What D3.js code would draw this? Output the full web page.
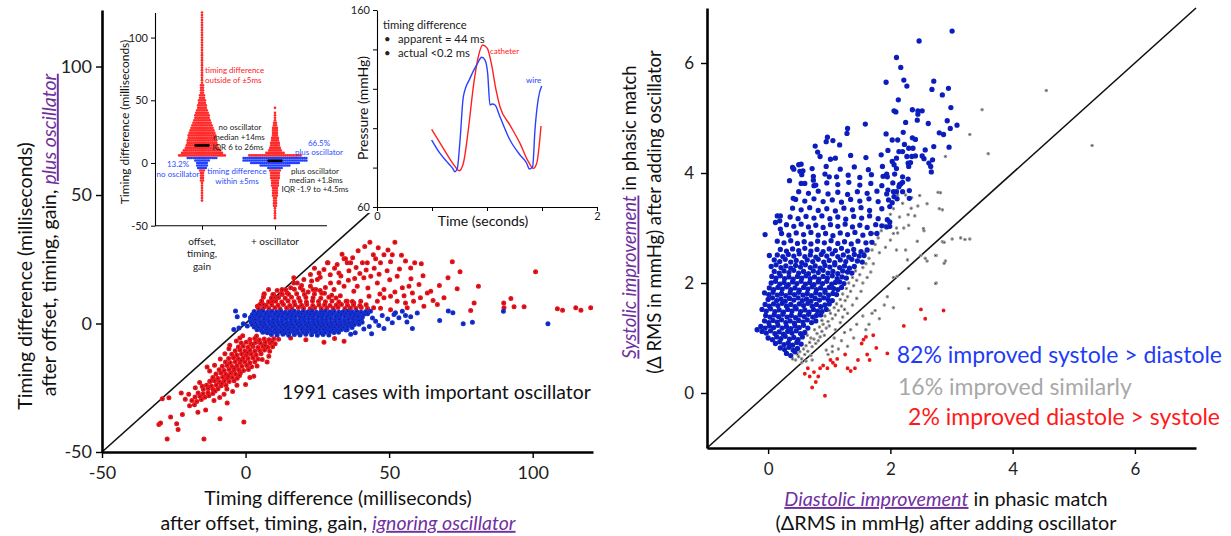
<!DOCTYPE html>
<html>
<head>
<meta charset="utf-8">
<script src="https://cdn.jsdelivr.net/npm/d3@7"></script>
<style>
  body { margin: 0; background: #fff; }
  text { font-family: Lato, "Open Sans", sans-serif; }
</style>
</head>
<body>
<svg id="chart" width="1231" height="536"></svg>
<script>
// ---------- data ----------
const pts = s => s.trim().split(/\s+/).map(p => p.split(",").map(Number));

// left panel: timing difference ignoring oscillator (x) vs plus oscillator (y), ms
const leftRed = pts(`
43.3,31.6 52,31.6 44.5,26.8 48.2,26.8 51.1,26.8 45.3,25.2 42.4,23.6 40.7,23.6 47,23.6 50.5,24 55.7,24.3 58.9,23.6
61.2,23.3 72,24 101,20.1 74.7,20.1 35.4,23.6 34.3,25.2 31.9,23 28.7,23.6 27.3,21 25.6,19.7 22.6,19.1 20.3,17.1 18,15.8
16.8,17.8 15.7,13.9 14.5,11.9 12.8,11.3 11,10 9.3,8.7 6.4,11.3 6.2,7.4 4.1,6.7 29.6,15.8 30.8,13.2 34.3,14.5 37.7,12.6
38.9,14.5 41.2,17.8 43.6,18.4 45.9,15.8 48.2,13.2 50.5,10.6 52.8,18.4 54.6,13.9 56.9,14.5 58.1,11.9 60.4,15.2 63.3,11.9
64.5,12.6 60.9,10 58.5,8.7 55.7,8 52.8,8.7 48.2,10 45.9,8.7 43,10.6 40.1,8.7 37.7,8 35.4,8.7 69.1,10 70.5,17.8 73.7,13.5
81.1,14.5 79.6,8 78.4,5.1 89.9,8 92.4,9.7 93.5,6.5 97,6.5 108.6,5.7 110.4,5.2 115,6.1 116.8,5.2 120.2,6.1 90,6.1 66.8,7.4
62.1,6.7 56.3,6.1 50.5,5.4 26,18 24,21.5 29.5,19 31,21.5 33.2,18.5 36,20.5 38.5,21.8 39.8,19.5 42,20.8 44.8,21.5 46.5,19.2
49.3,20.5 50.2,17 53.6,21.2 38,17.5 35.8,16.8 32.5,16 27.8,14 24.5,13.2 21.8,12.3 19.5,14.8 23,16.5 26.5,11.8 30,11 33,10.8
42.6,13.8 46.8,11.5 52,12.3 55.2,10.8 57.6,17.4 61.8,18.6 65.3,9 67.5,14.8 33.6,27 39.2,28.3 41.5,30 46.2,29.5 49.6,28.6
37.3,25.6 54.3,26.6 57.5,21.6 28.5,23.6 32.5,19.7 34.8,25.2 36.6,23.6 25,17.1 22.6,14.5 19.1,13.9 16.8,15.8 12.7,13.2 9.8,11.3
4.5,5.9 6.3,6.2 8.1,5.8 10.2,6.1 12,5.7 14.3,6 16.1,5.8 18.4,6.2 20.2,5.9 22.5,5.7 24.1,6.1 26.4,5.8 28.3,6 30.5,5.9 32.2,6.2
34.6,5.8 36.5,6 38.4,5.9 40.3,6.2 42.5,5.8 44.6,6.1 47,5.9
5,7.4 7.2,7 9.1,7.3 11.3,7.1 13.2,7.4 15.4,7 17.2,7.3 19.5,7.1 21.3,7.4 23.4,7 25.6,7.2 27.5,7.3 29.4,7 31.6,7.2 33.4,7.4
35.5,7.1 37.6,7.3 39.8,7 42,7.3
5.6,8.8 8,8.5 10.5,8.7 12.6,8.4 14.8,8.8 16.9,8.5 19,8.7 21.2,8.4 23.3,8.8 25.4,8.6 27.8,8.5 30.1,8.8 32.5,8.4 35,8.7 37.2,8.6
6.2,10.2 9,9.9 11.5,10.1 13.8,9.8 16,10.2 18.5,9.9 21,10.1 23.5,10 26.2,9.8 29,10.2 31.5,9.9
6.5,11.6 9.5,11.3 12.5,11.7 15,11.4 17.8,11.6 20.5,11.3 24,11.5 27.5,11.8
8,13.2 11,12.8 14,13.1 17,13.3 20,12.9 23.5,13.2 26,12.8
1.5,-6.2 3.2,-5.8 4.8,-6.4 6.5,-6 8.2,-6.3 9.8,-5.9 11.5,-6.1 15.7,-5.6 21,-6.3 27.3,-7.3 34.3,-6.9 31,-5.8 -3.2,-6.8 -2,-5.6
-1.5,-7.6 0.2,-7.3 1.8,-7.8 3.5,-7.4 5.2,-7.7 6.9,-7.3 8.6,-7.6 10.3,-7.9
-2.5,-9.1 -0.8,-8.8 0.9,-9.2 2.6,-8.9 4.3,-9.3 6,-8.9 7.7,-9.2 9.4,-9
-3.6,-10.6 -1.9,-10.3 -0.2,-10.7 1.5,-10.4 3.2,-10.8 4.9,-10.5 6.6,-10.3 8.4,-10.8
-4.8,-12 -3.1,-12.3 -1.4,-11.9 0.3,-12.2 2,-12 3.7,-12.3 5.4,-11.8 8.1,-12.7
-5.9,-13.6 -4.2,-13.3 -2.5,-13.7 -0.8,-13.4 0.9,-13.6 2.6,-13.3 4.3,-13.8
-7,-15 -5.3,-15.3 -3.6,-14.9 -1.9,-15.2 -0.2,-15 1.5,-15.3 3.2,-14.9 7.5,-15
-8.1,-16.6 -6.4,-16.3 -4.7,-16.7 -3,-16.4 -1.3,-16.6 0.4,-16.3 2.1,-16.8
-9.2,-18 -7.5,-18.3 -5.8,-17.9 -4.1,-18.2 -2.4,-18 -0.7,-18.3 1,-17.9
-10.3,-19.6 -8.6,-19.3 -6.9,-19.7 -5.2,-19.4 -3.5,-19.6 -1.8,-19.3 2.9,-20.5
-11.4,-21 -9.7,-21.3 -8,-20.9 -6.3,-21.2 -4.6,-21 -2.9,-21.3
-12.5,-22.6 -10.8,-22.3 -9.1,-22.7 -7.4,-22.4 -5.7,-22.6 -4,-22.3 0,-23.7
-13.6,-24 -11.9,-24.3 -10.2,-23.9 -8.5,-24.2 -6.8,-24 -15.1,-24.4
-14.7,-25.6 -13,-25.3 -11.3,-25.7 -9.6,-25.4
-16.5,-27 -14.8,-27.3 -13.1,-26.9 -11.4,-27.2 -22.4,-27
-17.6,-28.6 -15.9,-28.3 -14.2,-28.7 -29,-29.3 -26.7,-28.9
-18.7,-30 -17,-30.3 -6.4,-30.9 -19.5,-32 -17.8,-31.6
-30.2,-39.3 -29.6,-38.7 -26.1,-36.4 -24,-39 -23.5,-41.2 -27.3,-44.9 -22,-35.4 -16.6,-34.5 -13.9,-33.7 -14.5,-44.9
-8.9,-37.1 -0.6,-38.3 -13.4,-16.9 -12.2,-22.4
-6.5,-25.5 -4.5,-26.5 -9,-28.8 -11,-30 -5.5,-8.5 -1,-4.8 4,-16.5 5.8,-14 1.5,-21 -3,-24 -7.5,-27.5 -16,-23 -17.5,-25
-19.8,-27.5 -21,-29.5 -12.5,-18.5 -10.8,-16.2 -8.8,-13.8 -7.2,-11.8 -5.8,-9.8 3.8,-4.9 -3.9,-17.4 -6.1,-20.4 -8.3,-23.2
-1.6,-14.3 0.6,-11.4 2.4,-8.2 -10.6,-26.3 -12.8,-28.1 -15.4,-29.6 -2.1,-20.2 6.8,-8.6 9.2,-7
`);

const leftBlue = pts(`
3,4.7 4.6,4.5 6.1,4.8 7.7,4.4 9.2,4.7 10.8,4.5 12.3,4.8 13.9,4.4 15.4,4.6 17,4.8 18.5,4.4 20.1,4.7 21.6,4.5 23.2,4.8
24.7,4.4 26.3,4.6 27.8,4.8 29.4,4.5 30.9,4.7 32.5,4.4 34,4.6 35.6,4.8 37.1,4.5 38.7,4.7 40.2,4.4 41.8,4.6 43.5,4.8
2.4,3.5 3.9,3.7 5.4,3.4 7,3.8 8.5,3.5 10.1,3.7 11.6,3.4 13.2,3.8 14.7,3.5 16.3,3.7 17.8,3.4 19.4,3.8 20.9,3.5 22.5,3.6
24,3.8 25.6,3.4 27.1,3.7 28.7,3.5 30.2,3.8 31.8,3.4 33.3,3.6 34.9,3.8 36.4,3.5 38,3.7 39.5,3.4 41.2,3.6
2,2.6 3.5,2.4 5,2.7 6.6,2.5 8.1,2.8 9.7,2.4 11.2,2.6 12.8,2.7 14.3,2.4 15.9,2.6 17.4,2.8 19,2.5 20.5,2.7 22.1,2.4 23.6,2.6
25.2,2.8 26.7,2.5 28.3,2.6 29.8,2.4 31.4,2.7 32.9,2.5 34.5,2.8 36,2.4 37.6,2.6 39.1,2.7 40.7,2.5
1.8,1.5 3.3,1.7 4.8,1.4 6.4,1.8 7.9,1.5 9.5,1.7 11,1.4 12.6,1.6 14.1,1.8 15.7,1.5 17.2,1.7 18.8,1.4 20.3,1.6 21.9,1.8
23.4,1.5 25,1.7 26.5,1.4 28.1,1.6 29.6,1.8 31.2,1.5 32.7,1.7 34.3,1.4 35.8,1.6 37.4,1.8 38.9,1.5 40.3,1.6
1.9,0.6 3.4,0.4 5,0.7 6.5,0.5 8.1,0.8 9.6,0.4 11.2,0.6 12.7,0.7 14.3,0.4 15.8,0.6 17.4,0.8 18.9,0.5 20.5,0.7 22,0.4
23.6,0.6 25.1,0.8 26.7,0.5 28.2,0.6 29.8,0.4 31.3,0.7 32.9,0.5 34.4,0.8 36,0.4 37.5,0.6 39.1,0.7 40.6,0.5
2.3,-0.4 3.8,-0.6 5.4,-0.3 6.9,-0.5 8.5,-0.2 10,-0.6 11.6,-0.4 13.1,-0.3 14.7,-0.6 16.2,-0.4 17.8,-0.2 19.3,-0.5 20.9,-0.3
22.4,-0.6 24,-0.4 25.5,-0.2 27.1,-0.5 28.6,-0.4 30.2,-0.6 31.7,-0.3 33.3,-0.5 34.8,-0.2 36.4,-0.6 37.9,-0.4 39.5,-0.3
3,-1.4 4.5,-1.6 6.1,-1.3 7.6,-1.5 9.2,-1.2 10.7,-1.6 12.3,-1.4 13.8,-1.3 15.4,-1.6 16.9,-1.4 18.5,-1.2 20,-1.5 21.6,-1.3
23.1,-1.6 24.7,-1.4 26.2,-1.2 27.8,-1.5 29.3,-1.4 30.9,-1.6 32.4,-1.3 34,-1.5 35.5,-1.2 37.1,-1.6
4,-2.4 5.5,-2.6 7.1,-2.3 8.6,-2.5 10.2,-2.2 11.7,-2.6 13.3,-2.4 14.8,-2.3 16.4,-2.6 17.9,-2.4 19.5,-2.2 21,-2.5 22.6,-2.3
24.1,-2.6 25.7,-2.4 27.2,-2.2 28.8,-2.5 30.3,-2.4 31.9,-2.6 33.4,-2.3 35,-2.5
6,-3.4 7.6,-3.6 9.1,-3.3 10.7,-3.5 12.2,-3.2 13.8,-3.6 15.3,-3.4 16.9,-3.3 18.4,-3.6 20,-3.4 21.5,-3.2 23.1,-3.5 24.6,-3.3
26.2,-3.6 27.7,-3.4 29.3,-3.2 30.8,-3.5 32.4,-3.4
9,-4.3 11,-4.5 13,-4.2 15,-4.6 17,-4.3 19,-4.5 21,-4.2 23,-4.4 25,-4.6 27,-4.3 29,-4.5
-3.5,4.9 -2.9,2.6 -4.1,-2.3 -2.3,-1.7 -0.8,-0.1 0.6,-1 1.7,2.2 -0.3,3.1 67.6,1.2 70.6,4.9 72.2,4.2 75.8,-0.1 79,0.5
89.8,4.8 105.3,-0.1 58.1,-1.9 54.6,4.8 55.7,3.1 57.5,2.6 53.4,2.2 51.1,0.3 48.2,-1.9 43.9,-4 41.2,-2.1 39.5,1.2 45.3,0.9
47.6,3.1 51.7,3.5 35.4,-2.3 42.5,3.8 44.2,2.1 46.4,-0.8 49.5,1.8 52.2,4.2 43.1,-1.2 38.2,-3.6 36.6,-4.2 59.8,4.1 56.2,0.6
`);

// right panel: diastolic (x) vs systolic (y) improvement, ΔRMS mmHg
const rightBlue = pts(`
0.3,0.72 0.37,0.68 0.44,0.75
0.2,0.82 0.27,0.79 0.34,0.83 0.41,0.78 0.48,0.81
0.12,0.9 0.19,0.93 0.26,0.88 0.33,0.91 0.4,0.87 0.47,0.92 0.54,0.89
0,1 0.07,0.97 0.14,1.02 0.21,0.99 0.28,1.03 0.35,0.98 0.42,1.01 0.49,0.97 0.56,1.02
-0.1,1.12 -0.03,1.09 0.04,1.13 0.11,1.08 0.18,1.11 0.25,1.07 0.32,1.12 0.39,1.09 0.46,1.13 0.53,1.08 0.6,1.1
-0.18,1.15 -0.12,1.21 -0.05,1.18 0.02,1.22 0.09,1.19 0.16,1.23 0.23,1.18 0.3,1.21 0.37,1.17 0.44,1.22 0.51,1.19 0.58,1.23 0.65,1.18
-0.06,1.31 0.01,1.28 0.08,1.32 0.15,1.29 0.22,1.33 0.29,1.28 0.36,1.31 0.43,1.27 0.5,1.32 0.57,1.29 0.64,1.33 0.71,1.28 0.78,1.31
-0.04,1.41 0.03,1.38 0.1,1.42 0.17,1.39 0.24,1.43 0.31,1.38 0.38,1.41 0.45,1.37 0.52,1.42 0.59,1.39 0.66,1.43 0.73,1.38 0.79,1.41 0.86,1.42
-0.1,1.52 -0.03,1.49 0.04,1.53 0.11,1.48 0.18,1.51 0.25,1.47 0.32,1.52 0.39,1.49 0.46,1.53 0.53,1.48 0.6,1.51 0.67,1.47 0.74,1.52 0.81,1.49 0.88,1.48 0.95,1.52
-0.05,1.61 0.02,1.58 0.09,1.62 0.16,1.59 0.23,1.63 0.3,1.58 0.37,1.61 0.44,1.57 0.51,1.62 0.58,1.59 0.65,1.63 0.72,1.58 0.79,1.61 0.86,1.57 0.93,1.6 1,1.62
0,1.7 0.07,1.73 0.14,1.68 0.21,1.71 0.28,1.67 0.35,1.72 0.42,1.69 0.49,1.73 0.56,1.68 0.63,1.71 0.7,1.67 0.77,1.72 0.84,1.69 0.91,1.73 0.98,1.7 1.05,1.68
-0.06,1.82 0.01,1.79 0.08,1.83 0.15,1.78 0.22,1.81 0.29,1.77 0.36,1.82 0.43,1.79 0.5,1.83 0.57,1.78 0.64,1.81 0.71,1.77 0.78,1.82 0.85,1.79 0.93,1.83 0.99,1.78 1.06,1.81 1.12,1.79
0.02,1.91 0.09,1.88 0.16,1.92 0.23,1.89 0.3,1.93 0.37,1.88 0.44,1.91 0.51,1.87 0.58,1.92 0.65,1.89 0.72,1.93 0.79,1.88 0.86,1.91 0.93,1.87 1,1.92 1.07,1.9 1.14,1.88 1.2,1.92
0.05,2 0.12,2.03 0.19,1.98 0.26,2.01 0.33,1.97 0.4,2.02 0.47,1.99 0.54,2.03 0.61,1.98 0.68,2.01 0.75,1.97 0.82,2.02 0.89,1.99 0.96,2.03 1.04,1.98 1.1,2.01 1.17,2.02 1.24,1.99
0.06,2.12 0.13,2.09 0.2,2.13 0.27,2.08 0.34,2.11 0.41,2.07 0.48,2.12 0.55,2.09 0.62,2.13 0.69,2.08 0.76,2.11 0.83,2.07 0.9,2.12 0.97,2.09 1.05,2.13 1.13,2.08 1.21,2.11 1.28,2.09
0.1,2.21 0.18,2.18 0.26,2.22 0.34,2.19 0.42,2.23 0.5,2.18 0.58,2.21 0.66,2.17 0.74,2.22 0.82,2.19 0.9,2.23 0.98,2.18 1.06,2.21 1.14,2.17 1.22,2.22 1.3,2.2 1.37,2.18
0.05,2.3 0.13,2.33 0.21,2.28 0.29,2.31 0.37,2.27 0.45,2.32 0.53,2.29 0.61,2.33 0.69,2.28 0.77,2.31 0.85,2.27 0.93,2.32 1.01,2.29 1.09,2.33 1.17,2.28 1.25,2.31 1.33,2.27 1.41,2.3
0.1,2.42 0.19,2.39 0.28,2.43 0.37,2.38 0.46,2.41 0.55,2.37 0.64,2.42 0.73,2.39 0.82,2.43 0.91,2.38 1,2.41 1.09,2.37 1.18,2.42 1.27,2.39 1.37,2.43 1.46,2.4 1.54,2.38
0.15,2.51 0.24,2.48 0.33,2.52 0.42,2.49 0.51,2.53 0.6,2.48 0.69,2.51 0.78,2.47 0.87,2.52 0.96,2.49 1.05,2.53 1.14,2.48 1.23,2.51 1.32,2.47 1.41,2.52 1.49,2.49 1.57,2.5
0.2,2.61 0.3,2.58 0.4,2.62 0.5,2.59 0.6,2.63 0.7,2.58 0.8,2.61 0.9,2.57 1,2.62 1.1,2.59 1.2,2.63 1.3,2.58 1.4,2.61 1.52,2.57 1.62,2.6
0.15,2.76 0.26,2.73 0.37,2.77 0.48,2.72 0.59,2.75 0.7,2.71 0.81,2.76 0.92,2.73 1.03,2.77 1.14,2.72 1.25,2.75 1.36,2.71 1.47,2.76 1.6,2.73 1.7,2.74
-0.05,2.88 0.22,2.9 0.34,2.87 0.46,2.91 0.58,2.88 0.7,2.92 0.82,2.87 0.94,2.9 1.06,2.86 1.18,2.91 1.3,2.88 1.42,2.92 1.55,2.87 1.68,2.9 1.78,2.9
0.3,3.06 0.42,3.03 0.54,3.07 0.66,3.02 0.78,3.05 0.9,3.01 1.02,3.06 1.14,3.03 1.26,3.07 1.38,3.02 1.5,3.05 1.62,3.01 1.76,3.06 1.86,3.04
0.15,3.22 0.36,3.2 0.49,3.17 0.62,3.21 0.75,3.18 0.88,3.22 1.01,3.17 1.14,3.2 1.27,3.16 1.4,3.21 1.53,3.18 1.66,3.22 1.8,3.17 0.12,3.1 0.2,2.98
0.4,3.36 0.54,3.33 0.68,3.37 0.82,3.32 0.96,3.35 1.1,3.31 1.24,3.36 1.38,3.33 1.52,3.37 1.66,3.32 1.86,3.35
0.45,3.52 0.6,3.49 0.75,3.53 0.9,3.48 1.05,3.51 1.2,3.47 1.35,3.52 1.5,3.49 1.65,3.53 1.8,3.48 1.97,3.51
0.5,3.66 0.66,3.63 0.82,3.67 0.98,3.62 1.14,3.65 1.3,3.61 1.46,3.66 1.62,3.63 1.78,3.67 1.94,3.62 2.05,3.66
0.6,3.81 0.78,3.78 0.96,3.82 1.14,3.79 1.32,3.83 1.5,3.78 1.68,3.81 1.86,3.77 2.04,3.82 2.15,3.79
0.55,3.97 0.74,3.94 0.93,3.98 1.12,3.93 1.31,3.96 1.5,3.92 1.69,3.97 1.88,3.94 2.07,3.98 2.2,3.93
0.4,4.1 0.5,4.15 0.72,4.08 0.95,4.12 1.18,4.07 1.41,4.11 1.64,4.06 1.87,4.12 2.1,4.08 2.3,4.12
0.85,4.3 1.1,4.27 1.35,4.32 1.6,4.28 1.85,4.33 2.1,4.27 2.35,4.3 2.55,4.26
3.01,6.58 2.47,6.4 2.1,6.1 2.17,5.92 1.93,5.65 2.22,5.69 2.27,5.58 2.71,5.67 2.68,5.52 2.95,5.54 2.85,5.42 2.13,5.33
2.06,5.13 2.09,5.11 2.36,5.15 2.45,5.13 2.52,5.13 2.45,5.07 2.99,5.19 2.25,4.92 2.44,4.96 2.62,4.9 2.93,4.95 3.09,4.87
2.98,4.81 2.8,4.73 2.87,4.7 2.21,4.74 1.93,4.71 2.03,4.6 2.12,4.6 2.36,4.64 2.41,4.61 2.23,4.52 2.3,4.45 2.37,4.45
2.71,4.48 2.96,4.47 2.57,4.42 2.14,4.39 2.2,4.39 1.96,4.41 2.27,4.3 2.41,4.31 2.52,4.31 2.69,4.24 2.33,4.19 2.29,4.18
2.03,4.21 2.63,4.18 2.66,4.12 2.67,4.02 2.06,4.15 1.94,3.98 1.95,3.93 2.29,3.89 2.17,3.8 2.2,3.83 2.14,3.75 1.96,3.69
2.1,3.66 2.2,3.66 2.31,3.68 2.06,3.57 2.11,3.53 2.31,3.54 2.03,3.46 1.99,3.39 1.95,3.15 1.99,3.11 1.94,3.02 1.99,3.03
1.59,4.89 1.29,4.72 1.3,4.81 0.97,4.65 0.95,4.57 1.06,4.59 1.17,4.51 0.81,4.38 1.02,4.25 0.77,4.49 0.54,4.16 0.42,4.07
0.57,4.04 0.52,4.03 0.35,3.86 0.54,3.81 0.74,3.87 0.75,3.77 1,3.93 0.41,3.54 0.2,3.22 0.19,3.13 0.02,2.5
`);

const rightGray = pts(`
0.45,0.6 0.5,0.66 0.55,0.62 0.6,0.7 0.52,0.75 0.58,0.8 0.65,0.76 0.7,0.68 0.48,0.7 0.62,0.86 0.68,0.92 0.72,0.84 0.78,0.9
0.75,0.98 0.82,0.95 0.85,1.02 0.7,1 0.64,1.05 0.8,1.08 0.88,1.12 0.92,1.05 0.76,1.15 0.84,1.2 0.9,1.25 0.95,1.18 1,1.22
0.98,1.3 1.05,1.35 0.88,1.32 0.93,1.4 1.02,1.45 1.1,1.42 1.15,1.5 1.08,1.55 1.2,1.58 1.25,1.52 1,1.5 1.12,1.62 1.18,1.7
1.26,1.68 1.3,1.75 1.22,1.8 1.35,1.85 1.28,1.9 1.4,1.95 1.32,2 1.45,2.05 1.38,2.1 1.5,2.15 1.43,2.22 1.55,2.28 1.6,2.35
1.48,2.4 1.65,2.45 1.58,2.55 1.7,2.6 1.75,2.7 1.68,2.75 1.8,2.82 1.72,2.9 1.85,2.95 1.9,3.05 1.95,3.15 2,3.25 2.05,3.35
1.98,3.1 2.1,3 2.05,2.9 2.15,3.2 2.2,3.45 2.25,3.6 2.35,3.55 2.45,3.4 2.4,3.22 2.3,3.05 2.55,2.95 2.6,2.4 2.5,2.5 2.75,2.5
2.9,2.4 2.85,2.75 3.15,2.82 3.3,2.8 2.75,2 2.3,1.9 2.05,2.1 2.05,1.55 1.9,1.6 1.95,1.75 1.75,1.5 1.82,1.35 1.65,1.25
1.7,1.45 1.55,1.4 1.45,1.25 1.35,1.15 1.25,1.1 1.2,0.95 1.3,0.85 1.4,1 1.6,1.15 1.15,0.8 1.05,0.85 1.08,1 0.95,0.78
0.55,0.55 0.62,0.58 0.4,0.62 0.98,0.7 1.05,0.75 0.72,0.6 1.1,1.15 1.18,1.28 1.22,1.38 1.3,1.45 1.38,1.6 1.45,1.72
1.52,1.85 1.55,2 1.62,2.1 1.68,2.2 1.72,2.35 1.82,2.55 1.92,2.65 2,2.78 2.1,2.6 2.12,3.6 2.3,4.15 2.78,3.65 2.8,3.35
2.9,4.3 3.3,4.7 3.5,5.15 3.6,4.35 4.55,5.5 5.3,4.5 3.01,2.8 3.22,2.79 2.88,2.74 2.44,2.76 2.25,2.6 2.57,2.45 2.74,2.5
2.88,2.36 2.28,2.42 2.11,2.12 2.74,1.99 2.82,3.64 2.85,3.33 2.48,3.59 2.6,3.44 2.34,3.36 2.29,3.24 2.54,2.99 2.22,3
2.12,2.91
`);

const rightRed = pts(`
0.65,0.45 0.6,0.35 0.68,0.3 0.72,0.1 0.78,0.2 0.85,0.45 0.9,0.5 0.93,-0.05 0.97,0.45 1.02,0.6 1.06,0.55 1.1,0.5
1.13,0.62 1.26,0.7 1.3,0.45 1.35,0.4 1.42,0.45 1.47,0.6 1.53,0.9 1.56,0.97 1.6,1.02 1.62,0.7 1.66,0.6 1.72,1.05
1.77,0.82 1.95,0.72 2.22,1.22 2.5,1.52 2.57,1.35 2.87,1.5 0.75,0.38 0.82,0.3
`);

const leftTicks = [-50, 0, 50, 100];
const rightTicks = [0, 2, 4, 6];

// inset 1: bee swarm, [timing difference bin (ms), number of cases in row]
const swarmCats = ["offset, timing, gain", "+ oscillator"];
const swarmNoOsc = [[120,1],[118,1],[116,1],[114,1],[112,1],[110,1],[108,1],[106,1],[104,1],[102,1],[100,1],[98,1],
  [96,1],[94,1],[92,1],[90,1],[88,1],[86,1],[84,1],[82,1],[80,1],[78,1],[76,1],[74,1],[72,1],[70,1],[68,1],[66,1],
  [64,1],[62,2],[60,2],[58,2],[56,2],[54,3],[52,3],[50,4],[48,4],[46,5],[44,5],[42,6],[40,7],[38,8],[36,8],[34,9],
  [32,10],[30,11],[28,12],[26,13],[24,14],[22,15],[20,15],[18,16],[16,16],[14,17],[12,18],[10,20],[8,22],[6,25],
  [4,16],[2,8],[0,6],[-2,6],[-4,5],[-6,3],[-8,2],[-10,2],[-12,2],[-14,2],[-16,1],[-18,1],[-20,1],[-22,1],[-24,1],
  [-26,1],[-28,1],[-30,1]];
const swarmPlusOsc = [[44,1],[40,1],[38,1],[36,1],[34,1],[32,2],[30,2],[28,3],[26,3],[24,3],[22,3],[20,4],[18,4],
  [16,5],[14,5],[12,6],[10,7],[8,10],[6,28],[4,34],[2,34],[0,26],[-2,16],[-4,8],[-6,6],[-8,5],[-10,5],[-12,5],
  [-14,4],[-16,4],[-18,4],[-20,3],[-22,3],[-24,3],[-26,3],[-28,2],[-30,2],[-32,2],[-34,2],[-36,1],[-38,1],[-40,1],
  [-42,1],[-44,1]];
const swarmMedians = [14, 1.8];
const swarmTicks = [-50, 0, 50, 100];

// inset 2: pressure traces (seconds, mmHg)
const catheterT = [0.497,0.603,0.694,0.748,0.785,0.830,0.876,0.921,0.961,1.003,1.042,1.082,1.118,1.209,1.300,1.376,1.421,1.452,1.491];
const catheterP = [99.4,89.8,81.8,78.4,82.2,99.1,121.1,136.3,142.2,140.5,132.1,119.4,110.9,101.6,92.3,83.0,79.6,82.2,101.1];
const wireT = [0.497,0.573,0.648,0.688,0.709,0.730,0.755,0.785,0.845,0.906,0.952,0.982,1.006,1.027,1.048,1.073,1.118,1.209,1.300,1.361,1.385,1.415,1.436,1.467,1.497];
const wireP = [94,87.2,82.2,79.6,77.9,79.6,94,116,125.3,132.1,136,134.6,127.9,111.8,112.3,111.8,105.8,94,86.4,82.2,79.3,80.5,99.1,115.2,121.4];
const pressTicks = [60, 80, 100, 120, 140, 160];
const timeTicks = [0, 0.5, 1, 1.5, 2];

// ---------- drawing ----------
const svg = d3.select("#chart");
const purple = "#7030a0";
const red = "#e8141c", blue = "#1530d0";

function dots(g, data, x, y, fill, r, core, sw) {
  g.append("g").selectAll("circle").data(data).join("circle")
    .attr("cx", d => x(d[0])).attr("cy", d => y(d[1]))
    .attr("r", r).attr("fill", core).attr("stroke", fill).attr("stroke-width", sw);
}

function styleAxis(g, size, lw) {
  g.select(".domain").attr("stroke", "#000").attr("stroke-width", lw);
  g.selectAll(".tick line").attr("stroke", "#000").attr("stroke-width", Math.max(1, lw * 0.55));
  g.selectAll(".tick text").attr("fill", "#222").style("font-size", size + "px")
    .style("font-family", "Lato, sans-serif");
}

function label(x, y, parts, size, rot, anchor) {
  const t = svg.append("text")
    .attr("transform", `translate(${x},${y})` + (rot ? " rotate(-90)" : ""))
    .attr("text-anchor", anchor || "middle").attr("dy", "0.35em")
    .style("font-size", size + "px").attr("fill", "#111");
  parts.forEach(p => {
    const s = t.append("tspan").text(p[0]);
    if (p[1]) s.attr("fill", purple).style("font-style", "italic").style("text-decoration", "underline");
  });
  return t;
}

// ----- left panel
const xL = d3.scaleLinear().domain([-50, 121]).range([102, 593]);
const yL = d3.scaleLinear().domain([-50, 122]).range([452, 10]);

svg.append("line")
  .attr("x1", xL(-50)).attr("y1", yL(-50)).attr("x2", xL(121)).attr("y2", yL(121))
  .attr("stroke", "#111").attr("stroke-width", 1.6);

const gL = svg.append("g");
dots(gL, leftRed, xL, yL, red, 1.5, "#1a0a0a", 2.0);
dots(gL, leftBlue, xL, yL, blue, 1.5, "#0a0a2a", 2.0);

svg.append("g").attr("transform", `translate(0,${yL(-50)})`)
  .call(d3.axisBottom(xL).tickValues(leftTicks).tickSize(6).tickSizeOuter(0).tickPadding(8).tickFormat(d => String(d)))
  .call(g => styleAxis(g, 18, 2.6));
svg.append("g").attr("transform", `translate(${xL(-50)},0)`)
  .call(d3.axisLeft(yL).tickValues(leftTicks).tickSize(6).tickSizeOuter(0).tickPadding(4).tickFormat(d => String(d)))
  .call(g => styleAxis(g, 18, 2.6));

label(25, 276, [["Timing difference (milliseconds)"]], 19.5, true);
label(49, 235, [["after offset, timing, gain, "], ["plus oscillator", true]], 19.5, true);
label(338, 498, [["Timing difference (milliseconds)"]], 19.5);
label(338, 523, [["after offset, timing, gain, "], ["ignoring oscillator", true]], 19.5);
label(282, 392, [["1991 cases with important oscillator"]], 19.4, false, "start");

// ----- inset: bee swarm
const xS = d3.scalePoint().domain(swarmCats).range([155, 322]).padding(0.644);
const yS = d3.scaleLinear().domain([-50, 120]).range([225.7, 12.5]);
const gS = svg.append("g");
const swarmRows = [[swarmCats[0], swarmNoOsc], [swarmCats[1], swarmPlusOsc]];
const dotGap = 1.9;
[false, true].forEach(inside => {
  swarmRows.forEach(([cat, rows]) => {
    rows.filter(r => (Math.abs(r[0]) < 5) === inside).forEach(([v, n]) => {
      gS.append("g").selectAll("circle").data(d3.range(n)).join("circle")
        .attr("cx", i => xS(cat) + (i - (n - 1) / 2) * dotGap)
        .attr("cy", yS(v)).attr("r", 1.35)
        .attr("fill", inside ? "#2140ff" : "#ff2a2a");
    });
  });
});
gS.selectAll("rect.med").data(swarmMedians).join("rect")
  .attr("x", (d, i) => xS(swarmCats[i]) - 7.5).attr("y", d => yS(d) - 1.3)
  .attr("width", 15).attr("height", 2.6).attr("fill", "#000");

svg.append("g").attr("transform", "translate(155,0)")
  .call(d3.axisLeft(yS).tickValues(swarmTicks).tickSize(4).tickSizeOuter(0).tickPadding(3).tickFormat(d => String(d)))
  .call(g => styleAxis(g, 11, 1.1));
const axS = svg.append("g").attr("transform", `translate(0,${yS(-50)})`)
  .call(d3.axisBottom(xS).tickSize(4).tickSizeOuter(0).tickFormat(""))
  .call(g => styleAxis(g, 9, 1.1));
axS.select(".domain").attr("d", "M155,0H327");
const catLines = [["offset,", "timing,", "gain"], ["+ oscillator"]];
catLines.forEach((lines, i) => lines.forEach((s, j) => {
  svg.append("text").attr("x", xS(swarmCats[i])).attr("y", 241 + j * 12.8).attr("dy", "0.35em")
    .attr("text-anchor", "middle").style("font-size", "10px").attr("fill", "#222").text(s);
}));
label(125, 122, [["Timing difference (milliseconds)"]], 12, true);

const note = (x, y, s, c, anchor) => svg.append("text").attr("x", x).attr("y", y).attr("dy", "0.35em")
  .attr("text-anchor", anchor || "middle").style("font-size", "8px").attr("fill", c).text(s);
note(205, 70, "timing difference", "#ff2020", "start");
note(205, 80, "outside of \u00b15ms", "#ff2020", "start");
note(240, 127, "no oscillator", "#222");
note(239, 137, "median +14ms", "#222");
note(238, 147, "IQR 6 to 26ms", "#222");
note(319, 143, "66.5%", "#2a4cff");
note(319, 152, "plus oscillator", "#2a4cff");
note(178, 164, "13.2%", "#2a4cff");
note(178, 174, "no oscillator", "#2a4cff");
note(237, 171, "timing difference", "#2a4cff");
note(237, 181, "within \u00b15ms", "#2a4cff");
note(315, 171, "plus oscillator", "#222");
note(316, 180, "median +1.8ms", "#222");
note(315, 189, "IQR -1.9 to +4.5ms", "#222");

// ----- inset: pressure traces
const xP = d3.scaleLinear().domain([0, 2]).range([377, 597]);
const yP = d3.scaleLinear().domain([60, 160]).range([207, 10]);
svg.append("rect").attr("x", 368).attr("y", 0).attr("width", 237).attr("height", 213).attr("fill", "#fff");
svg.append("g").attr("transform", `translate(${xP(0)},0)`)
  .call(d3.axisLeft(yP).tickValues(pressTicks).tickSize(4).tickSizeOuter(0)
    .tickFormat(d => (d === 60 || d === 160) ? String(d) : ""))
  .call(g => styleAxis(g, 11, 1.1));
svg.append("g").attr("transform", `translate(0,${yP(60)})`)
  .call(d3.axisBottom(xP).tickValues(timeTicks).tickSize(4).tickSizeOuter(0).tickPadding(1)
    .tickFormat(d => (d === 0 || d === 2) ? String(d) : ""))
  .call(g => styleAxis(g, 11, 1.1));
const pLine = d3.line().x(d => xP(d[0])).y(d => yP(d[1])).curve(d3.curveMonotoneX);
svg.append("path").attr("d", pLine(d3.zip(catheterT, catheterP)))
  .attr("fill", "none").attr("stroke", "#ff2020").attr("stroke-width", 1.4);
svg.append("path").attr("d", pLine(d3.zip(wireT, wireP)))
  .attr("fill", "none").attr("stroke", "#2a40ff").attr("stroke-width", 1.4);
label(483, 221, [["Time (seconds)"]], 14);
label(363, 108, [["Pressure (mmHg)"]], 14, true);
const pn = (x, y, s, c, size) => svg.append("text").attr("x", x).attr("y", y).attr("dy", "0.35em")
  .style("font-size", size + "px").attr("fill", c).text(s);
pn(383, 25, "timing difference", "#222", 11.3);
pn(384, 39, "\u2022", "#222", 11.3);
pn(398, 39, "apparent = 44 ms", "#222", 11.3);
pn(384, 53, "\u2022", "#222", 11.3);
pn(398, 53, "actual <0.2 ms", "#222", 11.3);
pn(490, 51, "catheter", "#ff2020", 8);
pn(526, 80, "wire", "#2a40ff", 8);

// ----- right panel
const xR = d3.scaleLinear().domain([-1, 7]).range([707, 1196]);
const yR = d3.scaleLinear().domain([-1, 7]).range([448, 8]);
svg.append("line")
  .attr("x1", xR(-1)).attr("y1", yR(-1)).attr("x2", xR(7)).attr("y2", yR(7))
  .attr("stroke", "#111").attr("stroke-width", 1.6);
const gR = svg.append("g");
dots(gR, rightGray, xR, yR, "#9c9c9c", 1.2, "#2c2c2c", 1.2);
dots(gR, rightRed, xR, yR, "#ee1a1a", 1.1, "#220000", 1.7);
dots(gR, rightBlue, xR, yR, "#0c1ec0", 1.5, "#050a40", 2.3);

svg.append("g").attr("transform", `translate(0,${yR(-1)})`)
  .call(d3.axisBottom(xR).tickValues(rightTicks).tickSize(6).tickSizeOuter(0).tickPadding(9).tickFormat(d => String(d)))
  .call(g => styleAxis(g, 17, 2.6));
svg.append("g").attr("transform", `translate(${xR(-1)},0)`)
  .call(d3.axisLeft(yR).tickValues(rightTicks).tickSize(6).tickSizeOuter(0).tickPadding(7).tickFormat(d => String(d)))
  .call(g => styleAxis(g, 17, 2.6));

label(630, 212, [["Systolic improvement", true], [" in phasic match"]], 18.5, true);
label(655, 212, [["(\u0394 RMS in mmHg) after adding oscillator"]], 18.5, true);
label(946, 499, [["Diastolic improvement", true], [" in phasic match"]], 19.8);
label(946, 523, [["(\u0394RMS in mmHg) after adding oscillator"]], 19.8);

label(1222, 355, [["82% improved systole > diastole"]], 23, false, "end").attr("fill", "#1f3cf5");
label(898, 387, [["16% improved similarly"]], 23, false, "start").attr("fill", "#a8a8a8");
label(1220, 417, [["2% improved diastole > systole"]], 23, false, "end").attr("fill", "#ff1a1a");
</script>
</body>
</html>
